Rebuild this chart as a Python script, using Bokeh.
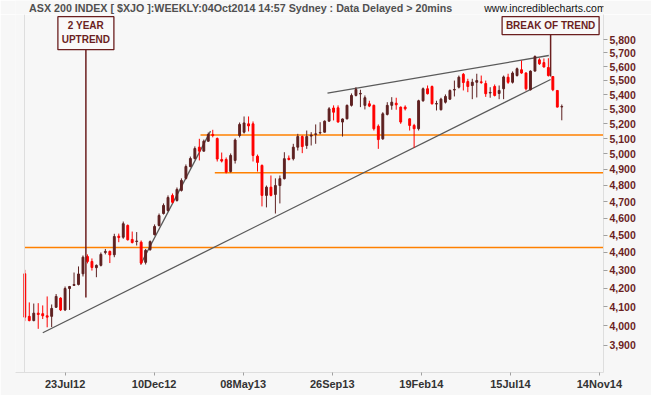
from bokeh.plotting import figure
from bokeh.layouts import column
from bokeh.models import ColumnDataSource, Range1d, FixedTicker, NumeralTickFormatter, Span
from bokeh.core.properties import value
from bokeh.embed import file_html
from bokeh.resources import INLINE

# ---- weekly OHLC of ASX 200 ----
opens = [4280, 4050, 4028, 4067, 4064, 4053, 4050, 4098, 4147, 4084,
         4199, 4216, 4221, 4280, 4377, 4349, 4314, 4327, 4400, 4406,
         4387, 4494, 4488, 4557, 4475, 4463, 4459, 4344, 4416, 4503,
         4557, 4628, 4646, 4738, 4707, 4769, 4844, 4919, 4970, 5044,
         5018, 5083, 5128, 5101, 4964, 4964, 4887, 4958, 5121, 5143,
         5199, 5199, 4985, 4926, 4738, 4789, 4744, 4799, 4842, 4972,
         4969, 5044, 5114, 5055, 5117, 5128, 5138, 5143, 5217, 5307,
         5308, 5211, 5233, 5325, 5394, 5404, 5325, 5336, 5325, 5183,
         5099, 5263, 5325, 5340, 5313, 5313, 5233, 5188, 5166, 5357,
         5441, 5457, 5334, 5295, 5347, 5368, 5432, 5452, 5544, 5492,
         5464, 5487, 5490, 5478, 5411, 5457, 5408, 5441, 5523, 5487,
         5535, 5577, 5553, 5434, 5567, 5649, 5629, 5593, 5528, 5429,
         5314]
highs = [4302, 4124, 4118, 4120, 4108, 4156, 4113, 4169, 4152, 4210,
         4213, 4287, 4321, 4383, 4389, 4366, 4332, 4400, 4420, 4411,
         4508, 4509, 4580, 4563, 4521, 4518, 4469, 4420, 4469, 4563,
         4628, 4689, 4738, 4750, 4787, 4844, 4932, 4983, 5049, 5099,
         5094, 5141, 5159, 5108, 5009, 4977, 5003, 5101, 5208, 5249,
         5249, 5215, 4996, 4932, 4799, 4862, 4844, 4862, 5011, 4990,
         5066, 5132, 5121, 5154, 5143, 5195, 5210, 5222, 5313, 5325,
         5325, 5235, 5331, 5408, 5452, 5434, 5394, 5357, 5331, 5195,
         5278, 5347, 5382, 5378, 5317, 5325, 5235, 5199, 5364, 5450,
         5464, 5464, 5357, 5378, 5401, 5436, 5499, 5535, 5553, 5512,
         5512, 5548, 5535, 5499, 5452, 5471, 5464, 5535, 5548, 5565,
         5593, 5644, 5560, 5572, 5681, 5661, 5659, 5661, 5528, 5429,
         5331]
lows = [4025, 4024, 4024, 3985, 4036, 3993, 3994, 4095, 4078, 4078,
        4084, 4213, 4216, 4265, 4338, 4298, 4261, 4321, 4389, 4340,
        4373, 4459, 4479, 4469, 4452, 4440, 4332, 4332, 4410, 4498,
        4551, 4622, 4640, 4689, 4700, 4762, 4837, 4913, 4964, 4958,
        5016, 5081, 5109, 4951, 4945, 4875, 4881, 4938, 5108, 5134,
        5148, 4951, 4887, 4671, 4665, 4732, 4628, 4689, 4837, 4958,
        4958, 5022, 5005, 5033, 5055, 5066, 5128, 5141, 5215, 5222,
        5208, 5114, 5229, 5317, 5387, 5313, 5297, 5313, 5154, 5033,
        5092, 5256, 5295, 5295, 5199, 5290, 5154, 5040, 5154, 5350,
        5401, 5331, 5290, 5290, 5338, 5364, 5387, 5443, 5429, 5417,
        5368, 5380, 5476, 5384, 5378, 5387, 5368, 5368, 5476, 5478,
        5528, 5548, 5429, 5429, 5565, 5612, 5593, 5528, 5424, 5311,
        5223]
closes = [4046, 4028, 4067, 4060, 4053, 4046, 4092, 4156, 4084, 4199,
          4210, 4221, 4279, 4373, 4349, 4315, 4327, 4389, 4406, 4386,
          4492, 4486, 4567, 4473, 4457, 4466, 4340, 4412, 4462, 4551,
          4616, 4677, 4725, 4696, 4775, 4831, 4919, 4970, 5035, 5018,
          5083, 5128, 5121, 4967, 4954, 4884, 4990, 5091, 5195, 5205,
          5185, 4990, 4945, 4738, 4789, 4738, 4799, 4842, 4969, 4964,
          5044, 5114, 5048, 5114, 5124, 5132, 5141, 5217, 5301, 5278,
          5211, 5232, 5325, 5394, 5436, 5408, 5378, 5320, 5166, 5094,
          5267, 5325, 5347, 5329, 5211, 5301, 5188, 5166, 5357, 5441,
          5406, 5336, 5338, 5368, 5387, 5429, 5436, 5523, 5485, 5457,
          5487, 5499, 5485, 5406, 5415, 5394, 5429, 5525, 5487, 5553,
          5584, 5553, 5441, 5567, 5674, 5620, 5597, 5535, 5434, 5313,
          5317]

x_tick_labels = ["23Jul12", "10Dec12", "08May13", "26Sep13", "19Feb14", "15Jul14", "14Nov14"]
y_tick_values = list(range(3900, 5801, 100))

# horizontal support / resistance levels and the week each begins
level_values = [4428, 5125, 4879]
level_start_week = [-0.07, 39.26, 42.46]

# trend lines (week index, index level)
trend_x0 = [4.02, 25.86, 67.64]
trend_y0 = [3965, 4332, 5410]
trend_x1 = [117.5, 41.5, 117.1]
trend_y1 = [5507, 5150, 5681]

title_text = "ASX 200 INDEX [ $XJO ]:WEEKLY:04Oct2014 14:57 Sydney : Data Delayed > 20mins"
site_text = "www.incrediblecharts.com"

RED = "#ff0000"
DARK = "#5e2121"
MAROON = "#6b1f1f"
BG = "#f7f7f7"
FONT = "Liberation Sans"

# ---------- header strip (title + site) ----------
hdr = figure(width=651, height=14, output_backend="svg", toolbar_location=None,
             x_range=Range1d(0, 651), y_range=Range1d(0, 1),
             x_axis_location=None, y_axis_location=None,
             min_border_left=0, min_border_right=0, min_border_top=0, min_border_bottom=0,
             background_fill_color=BG, border_fill_color=BG, outline_line_color=None)
hdr.xgrid.grid_line_color = None
hdr.ygrid.grid_line_color = None
hdr.text(x=[15], y=[0.5], text=[title_text], text_align="left", text_baseline="middle",
         text_font=value(FONT), text_font_style="bold", text_font_size="10.7px", text_color="#505050")
hdr.text(x=[519], y=[0.5], text=[site_text], text_align="left", text_baseline="middle",
         text_font=value(FONT), text_font_size="10.5px", text_color="#111111")

# ---------- main chart ----------
n = len(opens)
weeks = list(range(n))
src = ColumnDataSource(dict(
    x=weeks, o=opens, h=highs, l=lows, c=closes,
    top=[max(a, b) for a, b in zip(opens, closes)],
    bottom=[min(a, b) for a, b in zip(opens, closes)],
    color=[RED if c < o else DARK for o, c in zip(opens, closes)],
))

X_START = -2.08
X_END = 129.32
p = figure(width=651, height=381, output_backend="svg", toolbar_location=None,
           x_range=Range1d(X_START, X_END), y_range=Range1d(3765.6, 5991.2),
           y_axis_type="log", y_axis_location="right",
           min_border_left=15, min_border_right=48, min_border_top=0, min_border_bottom=23,
           background_fill_color=BG, border_fill_color=BG, outline_line_color=None)
p.xgrid.grid_line_color = None
p.ygrid.grid_line_color = None

# y axis
ya = p.yaxis[0]
ya.ticker = FixedTicker(ticks=y_tick_values, minor_ticks=[])
ya.formatter = NumeralTickFormatter(format="0,0")
ya.major_tick_out = 4
ya.major_tick_in = 0
ya.minor_tick_out = 0
ya.minor_tick_in = 0
ya.major_tick_line_color = "#a0a0a0"
ya.axis_line_color = "#dedede"
ya.major_label_standoff = 2
ya.major_label_text_font = FONT
ya.major_label_text_font_style = "bold"
ya.major_label_text_font_size = "10.5px"
ya.major_label_text_color = MAROON

# x axis
tick_pos = [round(9.0 + 19.9 * k, 3) for k in range(len(x_tick_labels))]
xa = p.xaxis[0]
xa.ticker = FixedTicker(ticks=tick_pos, minor_ticks=[])
xa.major_label_overrides = {t: lab for t, lab in zip(tick_pos, x_tick_labels)}
xa.major_tick_out = 3
xa.major_tick_in = 0
xa.minor_tick_out = 0
xa.minor_tick_in = 0
xa.major_tick_line_color = "#a0a0a0"
xa.axis_line_color = "#dedede"
xa.major_label_standoff = 2
xa.major_label_text_font = FONT
xa.major_label_text_font_style = "bold"
xa.major_label_text_font_size = "11px"
xa.major_label_text_color = "#333333"

p.add_layout(Span(location=-0.07, dimension="height", line_color="#dedede", line_width=1))

# support levels and trend lines
p.segment(x0=level_start_week, y0=level_values, x1=[X_END] * len(level_values), y1=level_values,
          line_color="#ff8000", line_width=1.5)
p.segment(x0=trend_x0, y0=trend_y0, x1=trend_x1, y1=trend_y1,
          line_color="#5a5a5a", line_width=1.3)

# candles
p.segment(x0="x", y0="h", x1="x", y1="l", line_color="color", line_width=1, source=src)
p.vbar(x="x", top="top", bottom="bottom", width=0.42, fill_color="color",
       line_color="color", line_width=1, source=src)

# call-outs
call_x = [13.65, 117.5]
call_line_top = [5725, 5838]
call_line_bottom = [4150, 5528]
p.segment(x0=call_x, y0=call_line_top, x1=call_x, y1=call_line_bottom, line_color=MAROON, line_width=1.5)
p.rect(x=call_x, y=[5848, 5906], width=[56, 97], height=[33, 18],
       width_units="screen", height_units="screen",
       fill_color="#f9f9f9", line_color=MAROON, line_width=1.3)
p.text(x=[13.65, 13.65, 117.5], y=[5906, 5800, 5906], text=["2 YEAR", "UPTREND", "BREAK OF TREND"],
       text_align="center", text_baseline="middle", text_font=value(FONT),
       text_font_style="bold", text_font_size="10px", text_color=MAROON)

layout = column(hdr, p, spacing=0)
open("out.html", "w").write(file_html(layout, INLINE))
